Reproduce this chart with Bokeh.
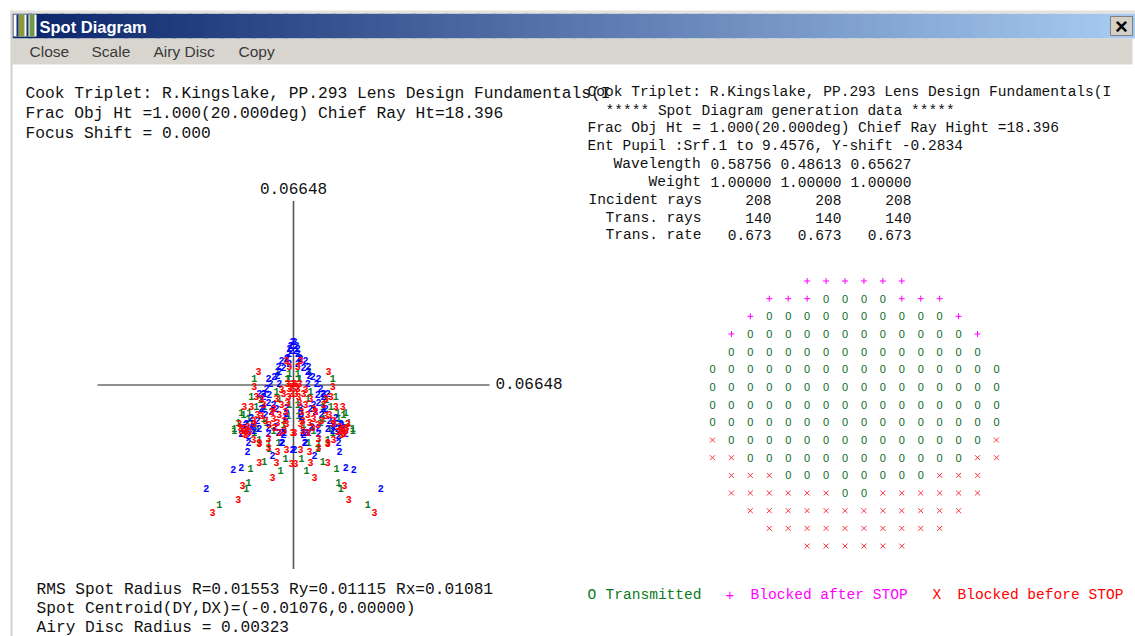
from bokeh.plotting import figure
from bokeh.models import Range1d
from bokeh.core.properties import value
from bokeh.embed import file_html
from bokeh.resources import INLINE

SCALE = 0.06648

# Spot diagram: right half of each wavelength (mm), mirrored about DX = 0
green_dx = [.0146,.0099,.0044,.0027,.0153,.0160,.0252,.0082,.0116,.0201,.0014,.0054,.0133,.0058,.0143,.0048,.0126,.0177,.0201,.0092,.0133,.0085,.0153,.0017,.0099,.0051,.0017,
            .0170,.0150,.0102,.0068,.0014,.0020,.0034,.0122,.0187,.0112]
green_dy = [-.0302,-.0277,-.0310,-.0266,-.0353,-.0374,-.0432,-.0230,-.0198,-.0166,.0040,.0050,.0022,-.0022,-.0040,-.0050,-.0076,-.0101,-.0158,-.0137,-.0173,-.0212,-.0122,-.0112,-.0076,-.0209,.0022,
            -.0108,-.0101,-.0122,-.0166,-.0072,.0022,-.0144,-.0158,-.0137,-.0054]

blue_dx = [.0003,.0014,.0014,.0024,.0041,.0014,.0051,.0048,.0085,.0078,.0048,.0092,.0102,.0102,.0024,.0024,.0031,.0051,.0037,.0099,.0116,.0085,.0102,.0058,.0075,.0085,.0085,.0143,.0136,.0133,.0160,.0153,.0153,.0177,.0177,.0204,.0296,.0156,.0071,.0041,.0003,
           .0170,.0150,.0139,.0163,.0122,.0116,.0068,.0082,.0027,.0041,.0061,.0095,.0109,.0054,.0034,.0020,.0010,.0007,.0065,.0034]
blue_dy = [.0158,.0133,.0115,.0097,.0090,.0076,.0068,.0050,.0022,.0007,.0007,-.0014,-.0040,-.0029,-.0104,-.0083,-.0173,-.0173,-.0209,-.0029,-.0032,-.0065,-.0086,-.0086,-.0094,-.0155,-.0176,-.0119,-.0140,-.0166,-.0140,-.0184,-.0209,-.0176,-.0299,-.0306,-.0374,-.0241,-.0256,-.0209,-.0234,
           -.0155,-.0158,-.0151,-.0144,-.0130,-.0158,-.0072,-.0036,-.0115,-.0173,-.0151,-.0108,-.0086,.0036,.0065,.0101,.0144,.0126,.0032,-.0180]

red_dx = [.0007,.0058,.0116,.0071,.0173,.0187,.0275,.0054,.0024,.0085,.0116,.0136,.0024,.0014,.0119,.0133,.0041,.0003,.0014,.0126,.0017,.0068,.0109,.0167,.0031,.0024,.0003,.0075,.0068,.0065,.0109,.0085,.0116,.0143,.0184,.0133,.0167,.0170,.0048,.0034,.0058,
          .0156,.0160,.0177,.0163,.0180,.0150,.0122,.0102,.0095,.0041,.0020,.0027,.0031,.0010,.0020,.0007,.0136,.0082,.0048,.0054]
red_dy = [-.0284,-.0281,-.0281,-.0335,-.0364,-.0414,-.0461,-.0241,-.0234,-.0227,-.0212,-.0198,.0090,.0068,.0047,-.0004,-.0018,.0007,-.0011,-.0040,-.0040,-.0086,-.0050,-.0079,-.0130,-.0140,-.0173,-.0094,-.0122,-.0155,-.0112,-.0194,-.0209,-.0076,-.0140,-.0140,-.0158,-.0176,-.0173,-.0032,-.0047,
          -.0151,-.0166,-.0166,-.0180,-.0155,-.0169,-.0108,-.0072,-.0130,-.0072,-.0065,-.0094,-.0166,-.0007,.0004,-.0029,-.0130,-.0144,-.0108,-.0137]

# Entrance pupil map: O transmitted, + blocked after stop, x blocked before stop
pupil_rows = [
    ".....++++++.....",
    "...+++0000+++...",
    "..+0000000000+..",
    ".+000000000000+.",
    ".00000000000000.",
    "0000000000000000",
    "0000000000000000",
    "0000000000000000",
    "0000000000000000",
    "x00000000000000x",
    "xx000000000000xx",
    ".xxx00000000xxx.",
    ".xxxxxx00xxxxxx.",
    "..xxxxxxxxxxxx..",
    "...xxxxxxxxxx...",
    ".....xxxxxx.....",
]

left_header = ["Cook Triplet: R.Kingslake, PP.293 Lens Design Fundamentals(I",
               "Frac Obj Ht =1.000(20.000deg) Chief Ray Ht=18.396",
               "Focus Shift = 0.000"]
left_footer = ["RMS Spot Radius R=0.01553 Ry=0.01115 Rx=0.01081",
               "Spot Centroid(DY,DX)=(-0.01076,0.00000)",
               "Airy Disc Radius = 0.00323"]
right_header = ["Cook Triplet: R.Kingslake, PP.293 Lens Design Fundamentals(I",
                "***** Spot Diagram generation data *****",
                "Frac Obj Ht = 1.000(20.000deg) Chief Ray Hight =18.396",
                "Ent Pupil :Srf.1 to 9.4576, Y-shift -0.2834"]
table_labels = ["Wavelength", "Weight", "Incident rays", "Trans. rays", "Trans. rate"]
table_values = [["0.58756", "0.48613", "0.65627"],
                ["1.00000", "1.00000", "1.00000"],
                ["208", "208", "208"],
                ["140", "140", "140"],
                ["0.673", "0.673", "0.673"]]
menu_items = ["Close", "Scale", "Airy Disc", "Copy"]

X0, Y0, W, H = 0, 0, 1135, 636
p = figure(width=W, height=H, output_backend="svg", toolbar_location=None,
           x_range=Range1d(X0, X0 + W), y_range=Range1d(Y0 + H, Y0),
           min_border=0, outline_line_color=None, background_fill_color="white")
p.axis.visible = False
p.grid.visible = False
p.xaxis.visible = False
p.yaxis.visible = False

cx, cy, kx, ky = 293, 384.5, SCALE / 196, SCALE / 184
p.extra_x_ranges["spot"] = Range1d((X0 - cx) * kx, (X0 + W - cx) * kx)
p.extra_y_ranges["spot"] = Range1d((cy - Y0 - H) * ky, (cy - Y0) * ky)
col0, colw, row0, rowh = 712, 18.93, 280.5, 17.67
p.extra_x_ranges["pupil"] = Range1d((X0 - col0) / colw, (X0 + W - col0) / colw)
p.extra_y_ranges["pupil"] = Range1d((Y0 + H - row0) / rowh, (Y0 - row0) / rowh)

# --- window chrome ---
N = 70
def lerp(a, b, t):
    return int(round(a + (b - a) * t))
lefts = [12 + i * 1120 / N for i in range(N)]
rights = [12 + (i + 1.2) * 1120 / N for i in range(N)]
cols = ["#%02x%02x%02x" % (lerp(10, 166, i / (N - 1)), lerp(36, 202, i / (N - 1)), lerp(106, 240, i / (N - 1))) for i in range(N)]
p.quad(left=lefts, right=rights, top=[13] * N, bottom=[38] * N, fill_color=cols, line_color=None)
p.quad(left=[12], right=[1132], top=[38], bottom=[64], fill_color="#d8d5ce", line_color=None)
p.quad(left=[10], right=[12], top=[10], bottom=[636], fill_color="#d4d0c8", line_color=None)
p.quad(left=[10], right=[1135], top=[10], bottom=[13], fill_color="#e4e2dc", line_color=None)
# icon
p.quad(left=[13], right=[36], top=[14], bottom=[36], fill_color="white", line_color=None)
p.quad(left=[18, 29], right=[24, 34], top=[14, 14], bottom=[36, 36], fill_color=["#8a9a3c", "#6f9a4c"], line_color=None)
p.quad(left=[16, 26], right=[18, 28], top=[14, 14], bottom=[36, 36], fill_color="#14306e", line_color=None)
# close button
p.quad(left=[1110], right=[1132], top=[16], bottom=[35], fill_color="#d4d0c8", line_color="#808080")
p.text(x=[1121], y=[26], text=["×"], text_font=value("Liberation Sans"), text_font_style="bold",
       text_font_size="22px", text_color="black", text_align="center", text_baseline="middle")
p.text(x=[39], y=[26], text=["Spot Diagram"], text_font=value("Liberation Sans"), text_font_style="bold",
       text_font_size="16.5px", text_color="white", text_baseline="middle")
p.text(x=[29, 91, 153, 238], y=[51] * 4, text=menu_items, text_font=value("Liberation Sans"),
       text_font_size="15.5px", text_color="#3a3a3a", text_baseline="middle")

# --- axes of the spot diagram ---
p.segment(x0=[-SCALE], x1=[SCALE], y0=[0], y1=[0], x_range_name="spot", y_range_name="spot",
          line_color="#222222", line_width=1.2)
p.segment(x0=[0], x1=[0], y0=[-SCALE], y1=[SCALE], x_range_name="spot", y_range_name="spot",
          line_color="#555555", line_width=1.6)
for lx, ly, al, bl, xo, yo in [(0, SCALE, "center", "bottom", 0, -7), (SCALE, 0, "left", "middle", 6, -2)]:
    p.text(x=[lx], y=[ly], x_offset=[xo], y_offset=[yo],
           text=["%.5f" % SCALE], x_range_name="spot", y_range_name="spot",
           text_font=value("Liberation Mono"), text_font_size="16px", text_color="#111111",
           text_align=al, text_baseline=bl)

# --- spots ---
for dx, dy, lab, col in [(green_dx, green_dy, "1", "#0a7a1e"),
                         (blue_dx, blue_dy, "2", "#0000ff"),
                         (red_dx, red_dy, "3", "#ff0000")]:
    xs = dx + [-v for v in dx]
    ys = dy + dy
    p.text(x=xs, y=ys, text=[lab] * len(xs), x_range_name="spot", y_range_name="spot",
           text_font=value("Liberation Mono"), text_font_style="bold", text_font_size="10px",
           text_color=col, text_align="center", text_baseline="middle")

# --- pupil map ---
cells = [(c, r, ch) for r, row in enumerate(pupil_rows) for c, ch in enumerate(row)]
oc = [(c, r) for c, r, ch in cells if ch == "0"]
pc = [(c, r) for c, r, ch in cells if ch == "+"]
xc = [(c, r) for c, r, ch in cells if ch == "x"]
p.text(x=[c for c, r in oc], y=[r for c, r in oc], text=["0"] * len(oc), x_range_name="pupil", y_range_name="pupil",
       text_font=value("Liberation Sans"), text_font_size="11px", text_color="#0a6a1e",
       text_align="center", text_baseline="middle")
p.scatter(x=[c for c, r in pc], y=[r for c, r in pc], marker="cross", size=6, line_color="#ff00ff", line_width=1,
          x_range_name="pupil", y_range_name="pupil")
p.scatter(x=[c for c, r in xc], y=[r for c, r in xc], marker="x", size=7, line_color="#ff3040", line_width=1,
          x_range_name="pupil", y_range_name="pupil")

# --- text blocks ---
mono = value("Liberation Mono")
def block(xs, ys, texts, size, color="#111111", align="left"):
    p.text(x=xs, y=ys, text=texts, text_font=mono, text_font_size=size, text_color=color,
           text_align=align, text_baseline="middle")

block([25] * 3, [93, 113, 133], left_header, "16.25px")
block([36] * 3, [589, 608, 627], left_footer, "16.2px")
block([587, 605, 587, 587], [91, 110, 127, 145], right_header, "14.55px")
block([613, 648, 588, 605, 605], [163, 181, 199, 217, 234], table_labels, "14.55px")
for j, right in enumerate([771, 841, 911]):
    block([right] * 5, [163, 181, 199, 217, 234], [row[j] for row in table_values], "14.55px", align="right")

block([587, 605], [594, 594], ["O", "Transmitted"], "14.55px", "#0a7a1e")
block([725, 750], [594, 594], ["+", "Blocked after STOP"], "14.55px", "#ff00ff")
block([932, 957], [594, 594], ["X", "Blocked before STOP"], "14.55px", "#ff0000")

open("out.html", "w").write(file_html(p, INLINE))
